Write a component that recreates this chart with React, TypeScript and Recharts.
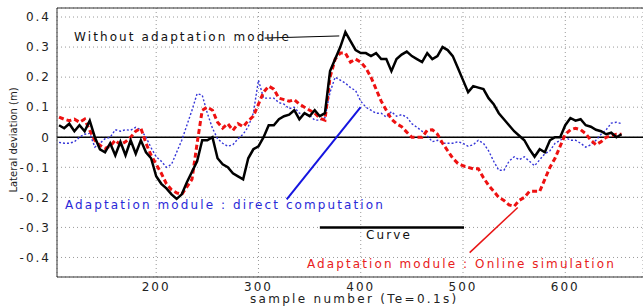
import { LineChart, Line, XAxis, YAxis, CartesianGrid, ReferenceLine } from 'recharts'

const samples = [
  105, 110, 115, 120, 125, 130, 135, 140, 145, 150,
  155, 160, 165, 170, 175, 180, 185, 190, 195, 200,
  205, 210, 215, 220, 225, 230, 235, 240, 245, 250,
  255, 260, 265, 270, 275, 280, 285, 290, 295, 300,
  305, 310, 315, 320, 325, 330, 335, 340, 345, 350,
  355, 360, 365, 370, 375, 380, 385, 390, 395, 400,
  405, 410, 415, 420, 425, 430, 435, 440, 445, 450,
  455, 460, 465, 470, 475, 480, 485, 490, 495, 500,
  505, 510, 515, 520, 525, 530, 535, 540, 545, 550,
  555, 560, 565, 570, 575, 580, 585, 590, 595, 600,
  605, 610, 615, 620, 625, 630, 635, 640, 645, 650,
  655, 660,
]

// black solid: without adaptation module
const withoutAdaptation = [
  0.04, 0.03, 0.045, 0.02, 0.04, 0.02, 0.055, 0.0, -0.04, -0.05,
  -0.02, -0.06, -0.015, -0.06, -0.01, -0.055, -0.01, -0.05, -0.07, -0.13,
  -0.155, -0.17, -0.19, -0.205, -0.19, -0.15, -0.115, -0.08, -0.01, -0.01,
  0.0, -0.07, -0.09, -0.1, -0.12, -0.13, -0.14, -0.07, -0.04, -0.03,
  0.0, 0.04, 0.04, 0.06, 0.07, 0.075, 0.09, 0.06, 0.08, 0.07,
  0.09, 0.07, 0.08, 0.22, 0.26, 0.3, 0.35, 0.32, 0.29, 0.28,
  0.28, 0.27, 0.28, 0.26, 0.26, 0.22, 0.26, 0.275, 0.285, 0.27,
  0.26, 0.25, 0.28, 0.26, 0.27, 0.3, 0.29, 0.27, 0.23, 0.19,
  0.15, 0.17, 0.165, 0.16, 0.13, 0.11, 0.08, 0.06, 0.04, 0.02,
  0.005, -0.01, -0.04, -0.065, -0.04, -0.05, -0.01, 0.0, 0.0, 0.04,
  0.064, 0.055, 0.06, 0.04, 0.035, 0.025, 0.02, 0.01, 0.015, 0.0,
  0.01, null,
]

// red dashed: adaptation module, online simulation
const onlineSimulation = [
  0.067, 0.06, 0.055, 0.06, 0.05, 0.06, 0.023, -0.01, -0.027, -0.037,
  -0.03, -0.01, -0.025, -0.015, 0.0, 0.02, 0.03, -0.02, -0.06, -0.09,
  -0.12, -0.155, -0.175, -0.185, -0.19, -0.165, -0.14, -0.02, 0.09, 0.1,
  0.09, 0.05, 0.03, 0.045, 0.023, 0.045, 0.035, 0.055, 0.07, 0.11,
  0.15, 0.17, 0.16, 0.13, 0.125, 0.12, 0.125, 0.11, 0.1, 0.09,
  0.08, 0.063, 0.057, 0.2, 0.26, 0.28, 0.28, 0.25, 0.26, 0.25,
  0.23, 0.2, 0.16, 0.12, 0.09, 0.06, 0.045, 0.035, 0.017, 0.0,
  0.0, 0.0, 0.023, 0.025, 0.01, -0.02, -0.045, -0.07, -0.087, -0.095,
  -0.1, -0.105, -0.105, -0.135, -0.16, -0.18, -0.2, -0.21, -0.225, -0.23,
  -0.21, -0.2, -0.18, -0.18, -0.18, -0.14, -0.1, -0.07, -0.03, 0.01,
  0.025, 0.03, 0.025, 0.012, -0.01, -0.025, -0.015, 0.0, 0.005, 0.01,
  0.01, null,
]

// blue dotted: adaptation module, direct computation
const directComputation = [
  -0.017, -0.02, -0.02, -0.015, 0.0, 0.01, 0.013, -0.033, -0.02, -0.005,
  0.0, 0.025, 0.02, 0.025, 0.023, 0.033, 0.025, 0.0, -0.035, -0.065,
  -0.08, -0.1, -0.09, -0.05, -0.01, 0.04, 0.09, 0.145, 0.14, 0.08,
  0.03, -0.005, -0.02, -0.03, -0.025, -0.005, 0.01, 0.035, 0.08, 0.19,
  0.13, 0.13, 0.13, 0.115, 0.11, 0.095, 0.1, 0.08, 0.075, 0.073,
  0.057, 0.057, 0.065, 0.15, 0.2, 0.19, 0.18, 0.165, 0.155, 0.12,
  0.1, 0.09, 0.08, 0.08, 0.067, 0.085, 0.07, 0.075, 0.067, 0.045,
  0.033, 0.02, 0.005, -0.015, -0.01, -0.02, -0.02, -0.02, -0.015, -0.02,
  -0.03, -0.025, -0.01, -0.02, -0.045, -0.08, -0.11, -0.11, -0.08, -0.065,
  -0.075, -0.065, -0.08, -0.095, -0.075, -0.055, -0.045, -0.02, -0.01, 0.0,
  -0.01, -0.01, -0.02, -0.033, -0.025, -0.01, 0.01, 0.025, 0.047, 0.05,
  0.045, null,
]

const xTicks = [200, 300, 400, 500, 600]
const yTicks = [-0.4, -0.3, -0.2, -0.1, 0, 0.1, 0.2, 0.3, 0.4]

const data = samples.map((s, i) => ({
  sample: s,
  without: withoutAdaptation[i],
  online: onlineSimulation[i],
  direct: directComputation[i],
}))

const font = '"DejaVu Sans", sans-serif'

const label = (left: number, top: number, color: string, spacing: number, size = 12): React.CSSProperties => ({
  position: 'absolute',
  left,
  top,
  color,
  fontFamily: font,
  fontSize: size,
  lineHeight: `${size}px`,
  letterSpacing: spacing,
  whiteSpace: 'nowrap',
})

const App = () => {
  return (
    <div style={{ position: 'absolute', left: 0, top: 0, width: 643, height: 307, background: '#fff' }}>
      <LineChart
        width={643}
        height={307}
        data={data}
        margin={{ top: 8, right: 0, bottom: 0, left: 0 }}
      >
        <CartesianGrid stroke="#999" strokeDasharray="1 3" ticks={yTicks} />
        <XAxis
          dataKey="sample"
          type="number"
          domain={[103, 676]}
          ticks={xTicks}
          allowDataOverflow
          height={30}
          tickSize={0}
          tickMargin={5}
          stroke="#333"
          tick={{ fill: '#222', fontSize: 12, fontFamily: font, letterSpacing: 2 }}
        />
        <YAxis
          type="number"
          domain={[-0.465, 0.43]}
          ticks={yTicks}
          allowDataOverflow
          width={57}
          tickSize={0}
          tickMargin={6}
          stroke="#333"
          tickFormatter={(v: number) => (v === 0 ? '0' : String(Number(v.toFixed(1))))}
          tick={{ fill: '#222', fontSize: 12, fontFamily: font, letterSpacing: 2 }}
        />
        <ReferenceLine y={0.43} stroke="#333" strokeWidth={1} />
        <ReferenceLine y={0} stroke="#000" strokeWidth={1.5} />
        <Line
          dataKey="direct"
          stroke="#3535d8"
          strokeWidth={1.4}
          strokeDasharray="2 2"
          dot={false}
          isAnimationActive={false}
        />
        <Line
          dataKey="online"
          stroke="#ee1111"
          strokeWidth={3}
          strokeDasharray="5 3"
          dot={false}
          isAnimationActive={false}
        />
        <Line
          dataKey="without"
          stroke="#000"
          strokeWidth={2.5}
          dot={false}
          isAnimationActive={false}
        />
        <ReferenceLine
          segment={[{ x: 306, y: 0.33 }, { x: 379, y: 0.337 }]}
          stroke="#000"
          strokeWidth={1}
        />
        <ReferenceLine
          segment={[{ x: 327.6, y: -0.207 }, { x: 399.9, y: 0.1 }]}
          stroke="#1515e0"
          strokeWidth={2}
        />
        <ReferenceLine
          segment={[{ x: 506.5, y: -0.384 }, { x: 553.5, y: -0.234 }]}
          stroke="#e81515"
          strokeWidth={1.5}
        />
        <ReferenceLine
          segment={[{ x: 360, y: -0.3 }, { x: 501, y: -0.3 }]}
          stroke="#000"
          strokeWidth={2.5}
        />
      </LineChart>

      <div style={label(74, 31, '#111', 2.1)}>Without adaptation module</div>
      <div style={label(65, 199, '#2a2ad8', 2.1)}>Adaptation module : direct computation</div>
      <div style={label(366, 229, '#111', 2.1)}>Curve</div>
      <div style={label(307, 258, '#e82020', 2.1)}>Adaptation module : Online simulation</div>
      <div style={label(250, 293, '#222', 2.3)}>sample number (Te=0.1s)</div>
      <div
        style={{
          position: 'absolute',
          left: 14,
          top: 140,
          transform: 'translate(-50%, -50%) rotate(-90deg)',
          fontFamily: font,
          fontSize: 10,
          lineHeight: '10px',
          color: '#222',
          whiteSpace: 'nowrap',
        }}
      >
        Lateral deviation (m)
      </div>
    </div>
  )
}

export default App
